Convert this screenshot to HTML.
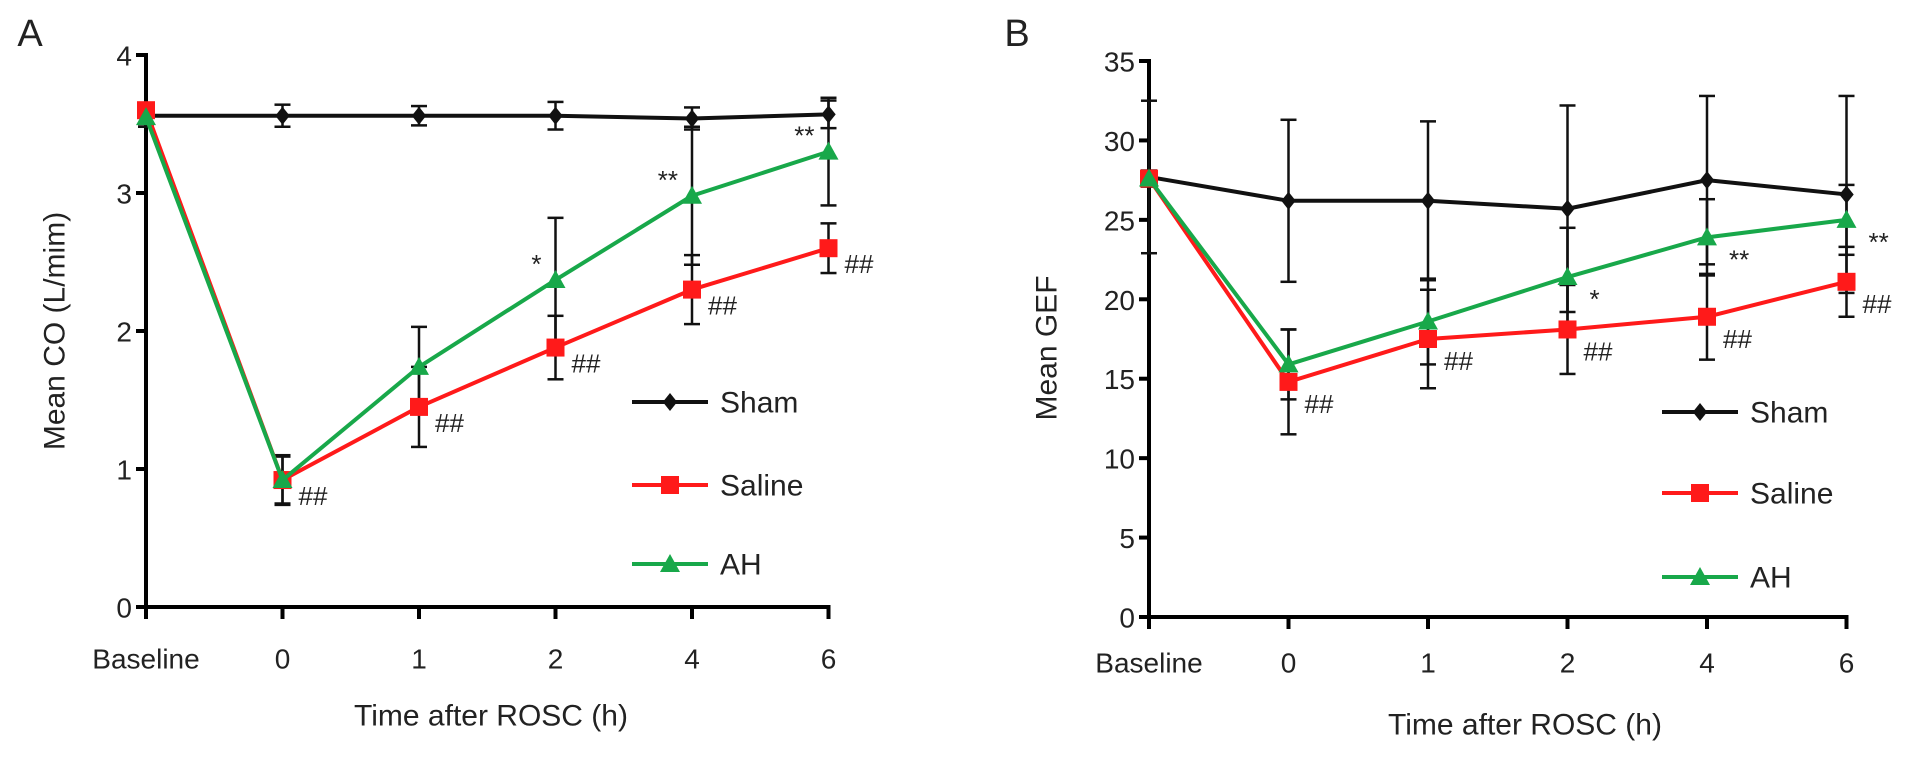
<!DOCTYPE html>
<html><head><meta charset="utf-8"><style>
html,body{margin:0;padding:0;background:#fff;}
svg{display:block;font-family:"Liberation Sans",Arial,sans-serif;}
</style></head><body>
<svg id="chart" width="1913" height="763" viewBox="0 0 1913 763"></svg>
<script>
const categories = ["Baseline","0","1","2","4","6"];
const coTicks = [0,1,2,3,4];
const gefTicks = [0,5,10,15,20,25,30,35];
const coSham = [3.56,3.56,3.56,3.56,3.54,3.57];
const coShamErr = [0.08,0.08,0.07,0.1,0.08,0.1];
const coSaline = [3.6,0.92,1.45,1.88,2.3,2.6];
const coSalineErr = [0.05,0.18,0.29,0.23,0.25,0.18];
const coAH = [3.55,0.92,1.74,2.37,2.98,3.3];
const coAHErr = [0.05,0.17,0.29,0.45,0.5,0.39];
const gefSham = [27.7,26.2,26.2,25.7,27.5,26.6];
const gefShamErr = [4.8,5.1,5.0,6.5,5.3,6.2];
const gefSaline = [27.6,14.8,17.5,18.1,18.9,21.1];
const gefSalineErr = [0.5,3.3,3.1,2.8,2.7,2.2];
const gefAH = [27.6,15.9,18.6,21.4,23.9,25.0];
const gefAHErr = [0.5,2.2,2.7,3.1,2.4,2.2];
const coMarks = [null,["##","",""],["##","",""],["##","*",""],["##","**",""],["##","**",""]];
const gefMarks = [null,["##","",""],["##","",""],["##","*",""],["##","**",""],["##","**",""]];

const NS="http://www.w3.org/2000/svg";
const svg=document.getElementById('chart');
function mk(tag,attrs,parent){const e=document.createElementNS(NS,tag);for(const k in attrs)e.setAttribute(k,attrs[k]);(parent||svg).appendChild(e);return e;}
function txt(s,x,y,size,anchor,parent,rot){const t=mk('text',{x:x,y:y,'font-size':size,'text-anchor':anchor||'middle','dominant-baseline':'central',fill:'#222'},parent);if(rot)t.setAttribute('transform','rotate(-90 '+x+' '+y+')');t.textContent=s;return t;}
const RED="#ff1a1a",GREEN="#18a84a",BLACK="#111";

function marker(type,x,y,color,g){
  if(type==='d'){const s=9;return mk('polygon',{points:`${x},${y-s} ${x+s*0.8},${y} ${x},${y+s} ${x-s*0.8},${y}`,fill:color},g);}
  if(type==='s'){return mk('rect',{x:x-9,y:y-9,width:18,height:18,fill:color},g);}
  return mk('polygon',{points:`${x},${y-10} ${x+10},${y+8} ${x-10},${y+8}`,fill:color},g);
}

function panel(o){
  const g=mk('g',{});  
  const X=i=>o.x0+o.dx*i;
  const Y=v=>o.y0-(v-o.vmin)/(o.vmax-o.vmin)*(o.y0-o.ytop);
  const xr=X(categories.length-1);
  // axes
  const ya=mk('line',{x1:o.x0,y1:o.ytop-2,x2:o.x0,y2:o.y0+2,stroke:'#000','stroke-width':4},g);
   
  const xa=mk('line',{x1:o.x0-2,y1:o.y0,x2:xr+2,y2:o.y0,stroke:'#000','stroke-width':4},g);
   
  o.ticks.forEach(v=>{
    mk('line',{x1:o.x0-10,y1:Y(v),x2:o.x0,y2:Y(v),stroke:'#000','stroke-width':4},g);
    const t=txt(String(v),o.x0-14,Y(v)+1,28,'end',g);
     
  });
  categories.forEach((c,i)=>{
    mk('line',{x1:X(i),y1:o.y0,x2:X(i),y2:o.y0+12,stroke:'#000','stroke-width':4},g);
    const t=txt(c,X(i),o.xly,28,'middle',g);
     
  });
  const yt=txt(o.ytitle,o.ytx,o.yty,30,'middle',g,true);
   
  const xt=txt('Time after ROSC (h)',o.xtx,o.xty,30,'middle',g);
   
  const pl=txt(o.label,o.lx,o.ly,38,'middle',g);
   
  const series=[
    {n:'sham',v:o.sham,e:o.shamE,c:BLACK,m:'d',lw:4},
    {n:'saline',v:o.saline,e:o.salineE,c:RED,m:'s',lw:4},
    {n:'ah',v:o.ah,e:o.ahE,c:GREEN,m:'t',lw:4}];
  // error bars
  series.forEach(s=>{
    s.v.forEach((v,i)=>{
      const x=X(i),t=Y(v+s.e[i]),b=Y(v-s.e[i]);
      const eg=mk('g',{stroke:'#111','stroke-width':2.5},g);
       
      mk('line',{x1:x,y1:t,x2:x,y2:b},eg);
      mk('line',{x1:x-8,y1:t,x2:x+8,y2:t},eg);
      mk('line',{x1:x-8,y1:b,x2:x+8,y2:b},eg);
    });
  });
  series.forEach(s=>{
    const pts=s.v.map((v,i)=>X(i)+','+Y(v)).join(' ');
    const l=mk('polyline',{points:pts,fill:'none',stroke:s.c,'stroke-width':s.lw,'stroke-linejoin':'round'},g);
     
    s.v.forEach((v,i)=>{
      const m=marker(s.m,X(i),Y(v),s.c,g);
       
    });
  });
  // significance marks
  o.marks.forEach((mm,i)=>{
    if(!mm)return;
    const h=txt(mm[0],X(i)+o.hashDx,Y(o.saline[i])+o.hashDy,26,'start',g);
     
    if(mm[1]){
      const a=txt(mm[1],X(i)+o.starDx,Y(o.ah[i])+o.starDy,26,o.starAnchor,g);
       
    }
  });
  // legend
  const names=['Sham','Saline','AH'];
  series.forEach((s,k)=>{
    const lg=mk('g',{},g);  
    const y=o.legY[k];
    mk('line',{x1:o.legX,y1:y,x2:o.legX+76,y2:y,stroke:s.c,'stroke-width':4},lg);
    marker(s.m,o.legX+38,y,s.c,lg);
    txt(names[k],o.legX+88,y+1,30,'start',lg);
  });
}

panel({name:'panel-a-mean-co',label:'A',lx:30,ly:34,x0:146,dx:136.5,y0:607,ytop:55,vmin:0,vmax:4,ticks:coTicks,
  ytitle:'Mean CO (L/mim)',ytx:55,yty:331,xly:659,xtx:491,xty:716,
  sham:coSham,shamE:coShamErr,saline:coSaline,salineE:coSalineErr,ah:coAH,ahE:coAHErr,marks:coMarks,
  hashDx:16,hashDy:16,starDx:-14,starDy:-16,starAnchor:'end',legX:632,legY:[402,485,564]});
panel({name:'panel-b-mean-gef',label:'B',lx:1017,ly:34,x0:1149,dx:139.5,y0:617,ytop:61,vmin:0,vmax:35,ticks:gefTicks,
  ytitle:'Mean GEF',ytx:1047,yty:348,xly:663,xtx:1525,xty:725,
  sham:gefSham,shamE:gefShamErr,saline:gefSaline,salineE:gefSalineErr,ah:gefAH,ahE:gefAHErr,marks:gefMarks,
  hashDx:16,hashDy:22,starDx:22,starDy:22,starAnchor:'start',legX:1662,legY:[412,493,577]});
</script>
</body></html>
